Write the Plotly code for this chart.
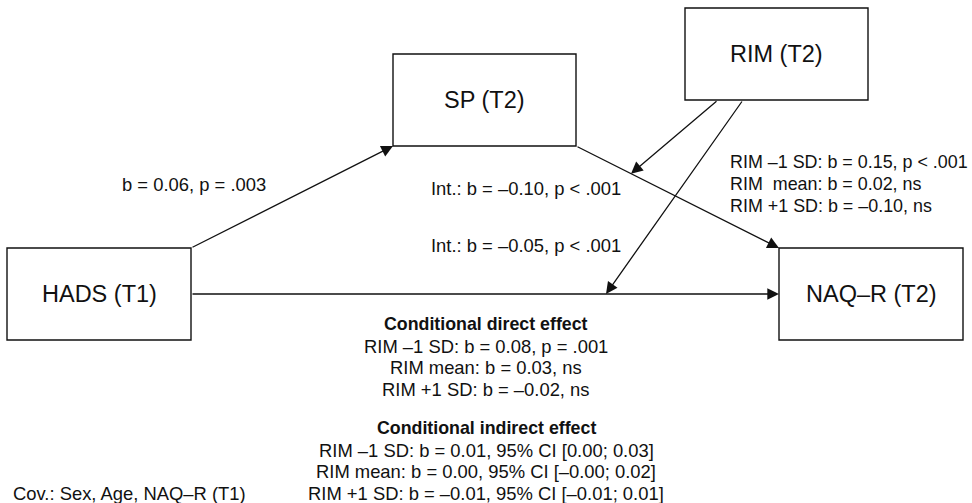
import plotly.graph_objects as go

# ---- data ----
node_names = ["HADS (T1)", "SP (T2)", "RIM (T2)", "NAQ–R (T2)"]
path_a_label = "b = 0.06, p = .003"
int_b_label = "Int.: b = –0.10, p < .001"
int_c_label = "Int.: b = –0.05, p < .001"
cond_b_lines = ["RIM –1 SD: b = 0.15, p < .001",
                "RIM\u00a0 mean: b = 0.02, ns",
                "RIM +1 SD: b = –0.10, ns"]
direct_title = "Conditional direct effect"
direct_lines = ["RIM –1 SD: b = 0.08, p = .001",
                "RIM mean: b = 0.03, ns",
                "RIM +1 SD: b = –0.02, ns"]
indirect_title = "Conditional indirect effect"
indirect_lines = ["RIM –1 SD: b = 0.01, 95% CI [0.00; 0.03]",
                  "RIM mean: b = 0.00, 95% CI [–0.00; 0.02]",
                  "RIM +1 SD: b = –0.01, 95% CI [–0.01; 0.01]"]
cov_label = "Cov.: Sex, Age, NAQ–R (T1)"

# ---- layout geometry (diagram coordinates) ----
boxes = {
    "HADS (T1)": (7, 248, 191, 340),
    "SP (T2)": (393, 54, 576, 146),
    "RIM (T2)": (685, 8, 868, 100),
    "NAQ–R (T2)": (779, 248, 963, 340),
}
FONT = "Liberation Sans, Arial, Helvetica, sans-serif"
INK = "#111111"

fig = go.Figure()
fig.add_trace(go.Scatter(x=[0, 972], y=[0, 503], mode="markers",
                         marker=dict(opacity=0), hoverinfo="skip", showlegend=False))

shapes = []
annotations = []
for name in node_names:
    x0, y0, x1, y1 = boxes[name]
    shapes.append(dict(type="rect", x0=x0, y0=y0, x1=x1, y1=y1, xref="x", yref="y",
                       line=dict(color=INK, width=1.4), fillcolor="white", layer="below"))
    annotations.append(dict(x=(x0 + x1) / 2, y=(y0 + y1) / 2, text=name, showarrow=False,
                            xref="x", yref="y", xanchor="center", yanchor="middle",
                            font=dict(size=23.5, color=INK, family=FONT)))

def arrow(x0, y0, x1, y1):
    annotations.append(dict(x=x1, y=y1, ax=x0, ay=y0, xref="x", yref="y", axref="x", ayref="y",
                            text="", showarrow=True, arrowhead=2, arrowsize=1.8,
                            arrowwidth=1.3, arrowcolor=INK, standoff=0, startstandoff=0))

h = boxes["HADS (T1)"]; s = boxes["SP (T2)"]; r = boxes["RIM (T2)"]; n = boxes["NAQ–R (T2)"]
ymid = (h[1] + h[3]) / 2
arrow(h[2], h[1], s[0], s[3])          # HADS -> SP
arrow(s[2], s[3], n[0], n[1])          # SP -> NAQ
arrow(h[2], ymid, n[0], ymid)          # HADS -> NAQ
# moderation arrows
tx = 631
ty = s[3] + (tx - s[2]) * (n[1] - s[3]) / (n[0] - s[2])
arrow(718, r[3], tx, ty)
arrow(743, r[3], 606, ymid)

def txt(x, y, t, size=18.4, anchor="center", bold=False):
    annotations.append(dict(x=x, y=y, text=(f"<b>{t}</b>" if bold else t), showarrow=False,
                            xref="x", yref="y", xanchor=anchor, yanchor="middle",
                            font=dict(size=size, color=INK, family=FONT)))

txt(194, 184, path_a_label)
txt(526, 188, int_b_label)
txt(526, 245, int_c_label)
for i, t in enumerate(cond_b_lines):
    txt(728, 162 + i * 22, t, size=17.9, anchor="left")
txt(486, 324, direct_title, size=17.8, bold=True)
for i, t in enumerate(direct_lines):
    txt(486, 346 + i * 21.5, t)
txt(486, 428, indirect_title, size=17.8, bold=True)
for i, t in enumerate(indirect_lines):
    txt(486, 450 + i * 21.7, t)
txt(129, 493, cov_label)

fig.update_layout(
    width=972, height=503, margin=dict(l=0, r=0, t=0, b=0),
    paper_bgcolor="white", plot_bgcolor="white",
    xaxis=dict(range=[0, 972], visible=False, fixedrange=True),
    yaxis=dict(range=[503, 0], visible=False, fixedrange=True),
    shapes=shapes, annotations=annotations, showlegend=False,
)
fig.write_html("out.html", config={"displayModeBar": False},
               post_script="document.body.style.margin='0';document.body.style.overflow='hidden';")
